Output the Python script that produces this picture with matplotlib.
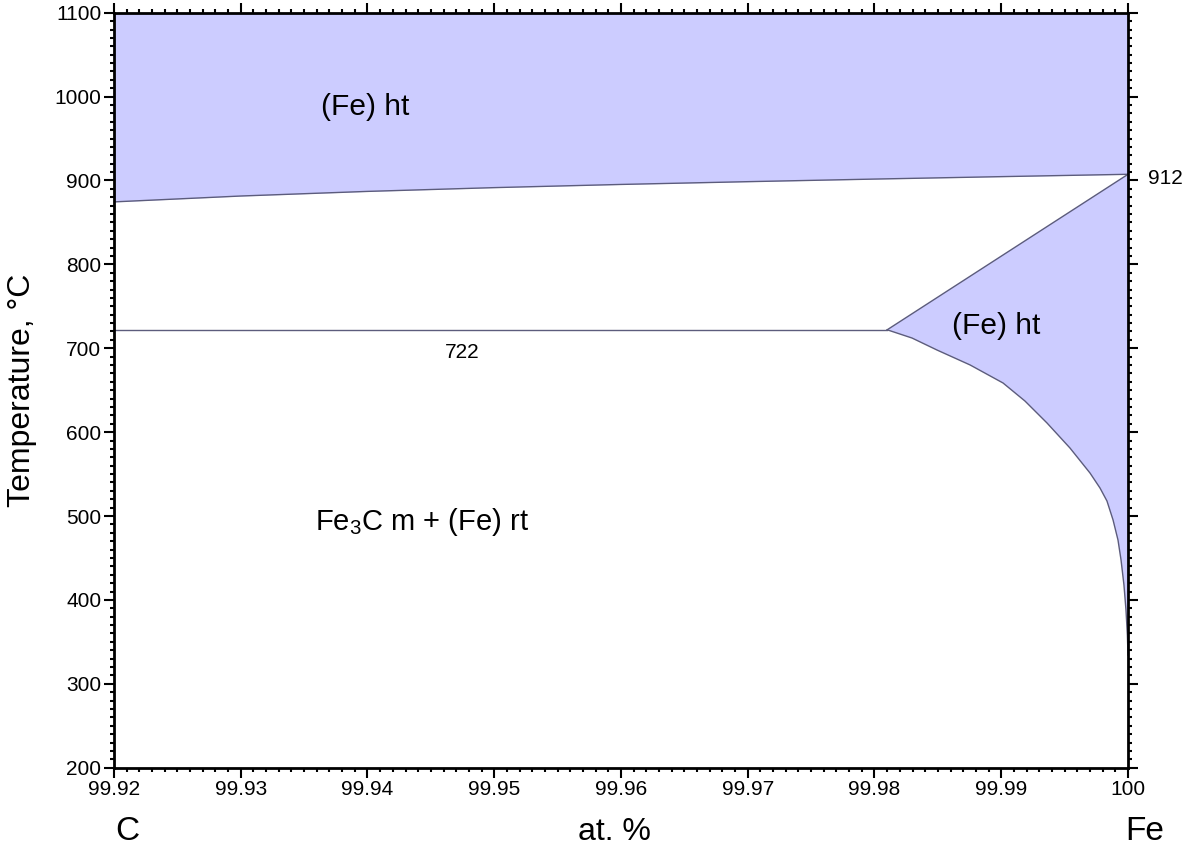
import numpy as np
import matplotlib.pyplot as plt
from matplotlib.ticker import MultipleLocator, FixedLocator

plt.rcParams['font.family'] = ['Liberation Sans', 'DejaVu Sans']

# boundary of the upper (Fe) ht field
top_x = [99.92, 99.93, 99.94, 99.95, 99.96, 99.97, 99.98, 99.99, 100.0]
top_t = [874.5, 881.5, 887.0, 891.5, 895.3, 898.6, 901.7, 904.6, 907.4]

# eutectoid line and point
eut_t = 722
eut_x = 99.981

# line from eutectoid point up to 912 at pure Fe
gam_x = [99.981, 100.0]
gam_t = [722, 907.4]

# lower solvus of the right (Fe) ht field
sol_x = [99.981, 99.98296, 99.98493, 99.98754, 99.99014, 99.99187, 99.99361,
         99.99542, 99.99700, 99.99779, 99.99834, 99.99882, 99.99921, 99.99945,
         99.99968, 99.99984, 99.99995, 100.0]
sol_t = [722, 712.2, 697.9, 680.1, 658.6, 637.1, 610.9,
         581.1, 551.3, 533.4, 517.9, 495.3, 471.4, 447.6,
         417.8, 388.0, 358.2, 334.3]

xticks = [99.92, 99.93, 99.94, 99.95, 99.96, 99.97, 99.98, 99.99, 100.0]
xticklabels = ['99.92', '99.93', '99.94', '99.95', '99.96', '99.97', '99.98', '99.99', '100']

fill_c = '#ccccff'
line_c = '#5c5c7c'

fig = plt.figure(figsize=(11.86, 8.49), dpi=100)
ax = fig.add_axes([0.0961, 0.0958, 0.8550, 0.8892])

# upper field
ax.fill_between(top_x, top_t, 1100, color=fill_c, lw=0)
ax.plot(top_x, top_t, color=line_c, lw=1)

# right field: polygon gamma line -> down Fe side -> back along solvus
px = gam_x + sol_x[::-1]
pt = gam_t + sol_t[::-1]
ax.fill(px, pt, color=fill_c, lw=0)
ax.plot(gam_x, gam_t, color=line_c, lw=1)
ax.plot(sol_x, sol_t, color=line_c, lw=1)

# eutectoid horizontal
ax.plot([99.92, eut_x], [eut_t, eut_t], color=line_c, lw=1)

ax.set_xlim(99.92, 100.0)
ax.set_ylim(200, 1100)

ax.xaxis.set_major_locator(FixedLocator(xticks))
ax.set_xticklabels(xticklabels)
ax.xaxis.set_minor_locator(MultipleLocator(0.001))
ax.yaxis.set_major_locator(MultipleLocator(100))
ax.yaxis.set_minor_locator(MultipleLocator(10))

ax.tick_params(which='both', direction='out', top=True, right=True,
               labeltop=False, labelright=False, width=1.5, colors='black')
ax.tick_params(which='major', length=7, labelsize=15, pad=2)
ax.tick_params(which='minor', length=3)
for s in ax.spines.values():
    s.set_linewidth(2)

ax.set_ylabel('Temperature, \u00b0C', fontsize=23, labelpad=13)

# labels
ax.text(99.9398, 988, '(Fe) ht', fontsize=21.5, ha='center', va='center')
ax.text(99.9896, 726, '(Fe) ht', fontsize=21.5, ha='center', va='center')
ax.text(99.9475, 695, '722', fontsize=15, ha='center', va='center')
ax.text(99.9443, 493, 'Fe$_{\\mathregular{3}}$C m + (Fe) rt', fontsize=21, ha='center', va='center')
fig.text(1165 / 1186, 1 - 179 / 849, '912', fontsize=15, ha='center', va='center')

fig.text(127 / 1186, 1 - 832 / 849, 'C', fontsize=24, ha='center', va='center')
fig.text(614 / 1186, 1 - 832 / 849, 'at. %', fontsize=23, ha='center', va='center')
fig.text(1145 / 1186, 1 - 832 / 849, 'Fe', fontsize=24, ha='center', va='center')

fig.savefig('out.png', dpi=100)
